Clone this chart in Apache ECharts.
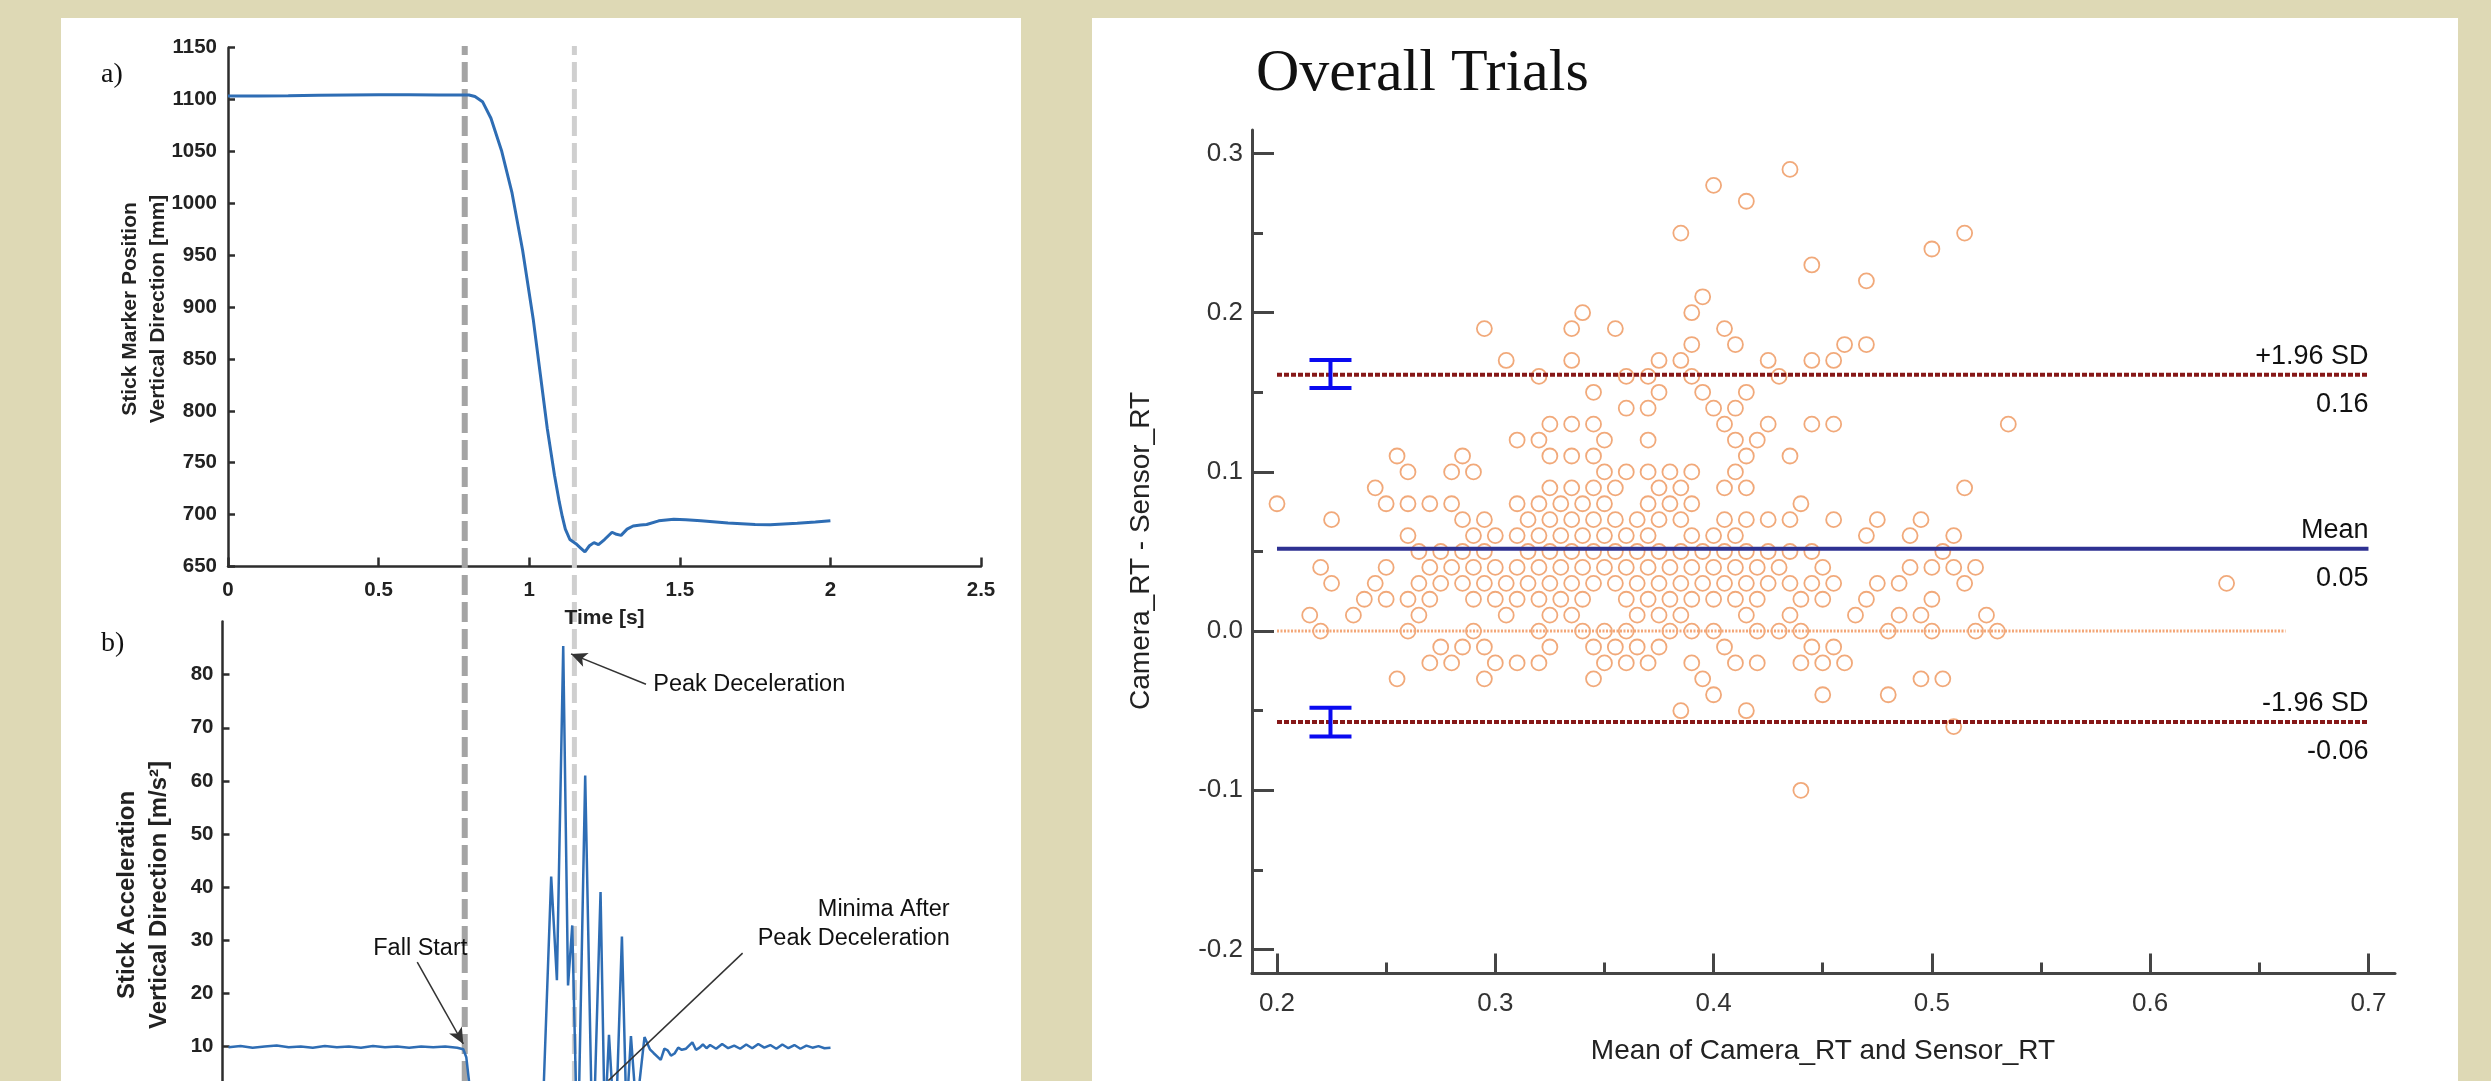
<!DOCTYPE html>
<html>
<head>
<meta charset="utf-8">
<script src="https://cdn.jsdelivr.net/npm/echarts@6/dist/echarts.min.js"></script>
<style>
html,body{margin:0;padding:0;background:#ded9b5;}
#c{width:2491px;height:1081px;}
</style>
</head>
<body>
<div id="c"></div>
<script>
// ---------- Panel a: stick marker position ----------
const posTime = [0, 0.1, 0.2, 0.3, 0.4, 0.5, 0.6, 0.7, 0.78, 0.8, 0.82, 0.845, 0.873, 0.908, 0.943, 0.978, 1.014, 1.037, 1.06, 1.084, 1.10, 1.11, 1.12, 1.135, 1.155, 1.17, 1.185, 1.20, 1.215, 1.23, 1.25, 1.275, 1.29, 1.305, 1.325, 1.345, 1.37, 1.39, 1.43, 1.48, 1.52, 1.57, 1.66, 1.75, 1.80, 1.89, 1.95, 2.0];
const posValue = [1103.5, 1103.5, 1103.8, 1104.2, 1104.5, 1104.6, 1104.6, 1104.5, 1104.5, 1104.4, 1103, 1098, 1082, 1051, 1010, 955, 887, 835, 783, 738, 712, 698, 686, 676, 672, 668, 664, 670, 673, 671, 676, 683, 681, 680, 686, 689, 690, 690.5, 694, 695.5, 695, 694, 692, 690.5, 690.3, 691.6, 692.8, 694];

// ---------- Panel b: stick acceleration ----------
const accTime = [0.00, 0.04, 0.08, 0.12, 0.16, 0.20, 0.24, 0.28, 0.32, 0.36, 0.40, 0.44, 0.48, 0.52, 0.56, 0.60, 0.64, 0.68, 0.72, 0.76, 0.78, 0.79, 0.80, 0.81, 0.83, 0.90, 1.00, 1.045, 1.072, 1.091, 1.112, 1.128, 1.142, 1.160, 1.185, 1.210, 1.236, 1.250, 1.264, 1.285, 1.307, 1.322, 1.337, 1.355, 1.382, 1.400, 1.412, 1.436, 1.448, 1.459, 1.470, 1.482, 1.494, 1.506, 1.520, 1.541, 1.553, 1.565, 1.576, 1.588, 1.60, 1.62, 1.64, 1.66, 1.68, 1.70, 1.72, 1.74, 1.76, 1.78, 1.80, 1.82, 1.84, 1.86, 1.88, 1.90, 1.92, 1.94, 1.96, 1.98, 2.00];
const accValue = [9.9, 10.1, 9.8, 10.0, 10.2, 9.9, 10.0, 9.8, 10.1, 9.9, 10.0, 9.8, 10.1, 9.9, 10.0, 9.8, 10.0, 9.9, 10.0, 9.8, 9.5, 8.0, 3.0, -2.0, -1.0, -0.5, -0.5, -1, 42, 22.5, 85.4, 21.5, 32.8, -12, 61, -12, 39.1, -5, 12.2, -8, 30.7, -3, 12, -2, 11.8, 9.5, 8.8, 7.5, 9.6, 9.3, 8.3, 8.7, 9.8, 9.4, 9.6, 10.8, 9.4, 9.8, 10.4, 9.7, 10.3, 9.6, 10.5, 9.7, 10.2, 9.6, 10.4, 9.7, 10.5, 9.8, 10.3, 9.6, 10.4, 9.7, 10.3, 9.6, 10.2, 9.8, 10.1, 9.7, 9.8];

// event markers (s): fall start, peak deceleration
const eventTimes = [0.786, 1.15];

// ---------- Bland-Altman: Overall Trials ----------
const baDiffRows = [0.29, 0.28, 0.27, 0.25, 0.24, 0.23, 0.22, 0.21, 0.20, 0.19, 0.18, 0.17, 0.16, 0.15, 0.14, 0.13, 0.12, 0.11, 0.10, 0.09, 0.08, 0.07, 0.06, 0.05, 0.04, 0.03, 0.02, 0.01, 0.00, -0.01, -0.02, -0.03, -0.04, -0.05, -0.06, -0.10];
const baMeanRows = [
  [0.435],
  [0.40],
  [0.415],
  [0.385, 0.515],
  [0.50],
  [0.445],
  [0.47],
  [0.395],
  [0.34, 0.39],
  [0.295, 0.335, 0.355, 0.405],
  [0.39, 0.41, 0.46, 0.47],
  [0.305, 0.335, 0.375, 0.385, 0.425, 0.445, 0.455],
  [0.32, 0.36, 0.37, 0.39, 0.43],
  [0.345, 0.375, 0.395, 0.415],
  [0.36, 0.37, 0.40, 0.41],
  [0.325, 0.335, 0.345, 0.405, 0.425, 0.445, 0.455, 0.535],
  [0.31, 0.32, 0.35, 0.37, 0.41, 0.42],
  [0.255, 0.285, 0.325, 0.335, 0.345, 0.415, 0.435],
  [0.26, 0.28, 0.29, 0.35, 0.36, 0.37, 0.38, 0.39, 0.41],
  [0.245, 0.325, 0.335, 0.345, 0.355, 0.375, 0.385, 0.405, 0.415, 0.515],
  [0.20, 0.25, 0.26, 0.27, 0.28, 0.31, 0.32, 0.33, 0.34, 0.35, 0.37, 0.38, 0.39, 0.44],
  [0.225, 0.285, 0.295, 0.315, 0.325, 0.335, 0.345, 0.355, 0.365, 0.375, 0.385, 0.405, 0.415, 0.425, 0.435, 0.455, 0.475, 0.495],
  [0.26, 0.29, 0.30, 0.31, 0.32, 0.33, 0.34, 0.35, 0.36, 0.37, 0.39, 0.40, 0.41, 0.47, 0.49, 0.51],
  [0.265, 0.275, 0.285, 0.295, 0.315, 0.325, 0.335, 0.345, 0.355, 0.365, 0.375, 0.385, 0.395, 0.405, 0.415, 0.425, 0.435, 0.445, 0.505],
  [0.22, 0.25, 0.27, 0.28, 0.29, 0.30, 0.31, 0.32, 0.33, 0.34, 0.35, 0.36, 0.37, 0.38, 0.39, 0.40, 0.41, 0.42, 0.43, 0.45, 0.49, 0.50, 0.51, 0.52],
  [0.225, 0.245, 0.265, 0.275, 0.285, 0.295, 0.305, 0.315, 0.325, 0.335, 0.345, 0.355, 0.365, 0.375, 0.385, 0.395, 0.405, 0.415, 0.425, 0.435, 0.445, 0.455, 0.475, 0.485, 0.515, 0.635],
  [0.24, 0.25, 0.26, 0.27, 0.29, 0.30, 0.31, 0.32, 0.33, 0.34, 0.36, 0.37, 0.38, 0.39, 0.40, 0.41, 0.42, 0.44, 0.45, 0.47, 0.50],
  [0.215, 0.235, 0.265, 0.305, 0.325, 0.335, 0.365, 0.375, 0.385, 0.415, 0.435, 0.465, 0.485, 0.495, 0.525],
  [0.22, 0.26, 0.29, 0.32, 0.34, 0.35, 0.36, 0.38, 0.39, 0.40, 0.42, 0.43, 0.44, 0.48, 0.50, 0.52, 0.53],
  [0.275, 0.285, 0.295, 0.325, 0.345, 0.355, 0.365, 0.375, 0.405, 0.445, 0.455],
  [0.27, 0.28, 0.30, 0.31, 0.32, 0.35, 0.36, 0.37, 0.39, 0.41, 0.42, 0.44, 0.45, 0.46],
  [0.255, 0.295, 0.345, 0.395, 0.495, 0.505],
  [0.40, 0.45, 0.48],
  [0.385, 0.415],
  [0.51],
  [0.44]
];
const baLimitValues = [0.161, 0.0518, -0.0571];       // +1.96 SD, mean, -1.96 SD
const baLimitNames = ['+1.96 SD', 'Mean', '-1.96 SD'];
const baLimitLabels = ['0.16', '0.05', '-0.06'];
const baLineRange = [0.2, 0.7];
const baZeroRange = [0.2, 0.662];
const baCI = [[0.2245, 0.1527, 0.1703], [0.2245, -0.0662, -0.0482]];
const baXTicks = [0.2, 0.3, 0.4, 0.5, 0.6, 0.7];
const baXMinor = [0.25, 0.35, 0.45, 0.55, 0.65];
const baYTicks = [-0.2, -0.1, 0.0, 0.1, 0.2, 0.3];
const baYMinor = [-0.15, -0.05, 0.05, 0.15, 0.25];
const accTicks = [10, 20, 30, 40, 50, 60, 70, 80];

// ---------- build ----------
const posData = posTime.map((t, i) => [t, posValue[i]]);
const accData = accTime.map((t, i) => [t, accValue[i]]);
const baData = [];
baDiffRows.forEach((d, i) => baMeanRows[i].forEach(m => baData.push([m, d])));

const chart = echarts.init(document.getElementById('c'), null, {width: 2491, height: 1081});
const AXL = '#2d2d2d';
const AXR = '#454545';
const leftLabel = {color: '#222', fontFamily: 'Liberation Sans', fontWeight: 'bold', fontSize: 20.5};
const rightLabel = {color: '#333', fontFamily: 'Liberation Sans', fontSize: 26};

const option = {
  animation: false,
  backgroundColor: '#ded9b5',
  grid: [
    {left: 228, top: 47.7, width: 753, height: 518.8},
    {left: 222.5, top: 621.5, width: 758.5, height: 459.5},
    {left: 228, top: 46, width: 753, height: 1035},
    {left: 1252, top: 130, width: 1143, height: 843.5}
  ],
  xAxis: [
    {gridIndex: 0, type: 'value', min: 0, max: 2.5, interval: 0.5, position: 'bottom',
     axisLine: {onZero: false, lineStyle: {color: AXL, width: 2.5}},
     axisTick: {inside: true, length: 9, lineStyle: {color: AXL, width: 2.5}},
     axisLabel: Object.assign({margin: 13, formatter: v => String(v)}, leftLabel),
     splitLine: {show: false}},
    {gridIndex: 1, type: 'value', min: -0.02, max: 2.5, show: false},
    {gridIndex: 2, type: 'value', min: 0, max: 2.5, show: false},
    {gridIndex: 3, type: 'value', min: 0.18855, max: 0.71215, position: 'bottom',
     axisLine: {onZero: false, lineStyle: {color: AXR, width: 3}},
     axisTick: {inside: true, length: 20, customValues: baXTicks, lineStyle: {color: AXR, width: 3}},
     axisLabel: Object.assign({margin: 17, customValues: baXTicks, formatter: v => v.toFixed(1)}, rightLabel),
     splitLine: {show: false}},
    {gridIndex: 3, type: 'value', min: 0.18855, max: 0.71215, position: 'bottom',
     axisLine: {show: false, onZero: false},
     axisTick: {inside: true, length: 11, customValues: baXMinor, lineStyle: {color: AXR, width: 3}},
     axisLabel: {show: false}, splitLine: {show: false}}
  ],
  yAxis: [
    {gridIndex: 0, type: 'value', min: 650, max: 1150, interval: 50, position: 'left',
     axisLine: {show: true, onZero: false, lineStyle: {color: AXL, width: 2.5}},
     axisTick: {show: true, inside: true, length: 7, lineStyle: {color: AXL, width: 2.5}},
     axisLabel: Object.assign({margin: 11, formatter: v => String(v)}, leftLabel),
     splitLine: {show: false}},
    {gridIndex: 1, type: 'value', min: 3.53, max: 90, position: 'left',
     axisLine: {show: true, onZero: false, lineStyle: {color: AXL, width: 2.5}},
     axisTick: {show: true, inside: true, length: 7, customValues: accTicks, lineStyle: {color: AXL, width: 2.5}},
     axisLabel: Object.assign({margin: 9, customValues: accTicks, formatter: v => String(v)}, leftLabel),
     splitLine: {show: false}},
    {gridIndex: 2, type: 'value', min: 0, max: 1, show: false},
    {gridIndex: 3, type: 'value', min: -0.21508, max: 0.31476, position: 'left',
     axisLine: {show: true, onZero: false, lineStyle: {color: AXR, width: 3}},
     axisTick: {show: true, inside: true, length: 22, customValues: baYTicks, lineStyle: {color: AXR, width: 3}},
     axisLabel: Object.assign({margin: 9, customValues: baYTicks, formatter: v => v.toFixed(1)}, rightLabel),
     splitLine: {show: false}},
    {gridIndex: 3, type: 'value', min: -0.21508, max: 0.31476, position: 'left',
     axisLine: {show: false, onZero: false},
     axisTick: {show: true, inside: true, length: 11, customValues: baYMinor, lineStyle: {color: AXR, width: 3}},
     axisLabel: {show: false}, splitLine: {show: false}}
  ],
  series: [
    {type: 'line', name: 'fall start', xAxisIndex: 2, yAxisIndex: 2, z: 1, silent: true,
     data: [[eventTimes[0], 0], [eventTimes[0], 1]], showSymbol: false,
     lineStyle: {color: '#a4a4a4', width: 6, type: [20, 7], cap: 'butt'}},
    {type: 'line', name: 'peak', xAxisIndex: 2, yAxisIndex: 2, z: 1, silent: true,
     data: [[eventTimes[1], 0], [eventTimes[1], 1]], showSymbol: false,
     lineStyle: {color: '#cfcfcf', width: 5, type: [20, 7], cap: 'butt'}},
    {type: 'line', name: 'position', xAxisIndex: 0, yAxisIndex: 0, z: 3,
     data: posData, showSymbol: false, lineStyle: {color: '#2e6db4', width: 3}},
    {type: 'line', name: 'acceleration', xAxisIndex: 1, yAxisIndex: 1, z: 3,
     data: accData, showSymbol: false, lineStyle: {color: '#2e6db4', width: 2.5},
     markLine: {silent: true, symbol: ['none', 'arrow'], symbolSize: [11, 16], animation: false,
       label: {show: false}, lineStyle: {color: '#333', width: 1.5, type: 'solid'},
       data: [
         [{coord: [1.387, 78.2]}, {coord: [1.138, 83.9]}],
         [{coord: [0.627, 25.9]}, {coord: [0.78, 10.5]}],
         [{coord: [1.708, 27.6], symbol: 'none'}, {coord: [1.262, 3.6], symbol: 'none'}]
       ]}},
    {type: 'scatter', name: 'trials', xAxisIndex: 3, yAxisIndex: 3, z: 2, data: baData,
     symbol: 'circle', symbolSize: 15,
     itemStyle: {color: 'rgba(255,255,255,0)', borderColor: '#ee9459', borderWidth: 1.8}},
    {type: 'line', name: 'zero', xAxisIndex: 3, yAxisIndex: 3, z: 4, silent: true, showSymbol: false,
     data: [[baZeroRange[0], 0], [baZeroRange[1], 0]],
     lineStyle: {color: '#f3a778', width: 3, type: [2, 1.5]}},
    {type: 'line', name: 'upper', xAxisIndex: 3, yAxisIndex: 3, z: 4, silent: true, showSymbol: false,
     data: [[baLineRange[0], baLimitValues[0]], [baLineRange[1], baLimitValues[0]]],
     lineStyle: {color: '#861818', width: 4, type: [5, 2]}},
    {type: 'line', name: 'mean', xAxisIndex: 3, yAxisIndex: 3, z: 4, silent: true, showSymbol: false,
     data: [[baLineRange[0], baLimitValues[1]], [baLineRange[1], baLimitValues[1]]],
     lineStyle: {color: '#2e3192', width: 4}},
    {type: 'line', name: 'lower', xAxisIndex: 3, yAxisIndex: 3, z: 4, silent: true, showSymbol: false,
     data: [[baLineRange[0], baLimitValues[2]], [baLineRange[1], baLimitValues[2]]],
     lineStyle: {color: '#861818', width: 4, type: [5, 2]}},
    {type: 'custom', name: 'ci', xAxisIndex: 3, yAxisIndex: 3, z: 5, silent: true,
     data: baCI, encode: {x: 0, y: [1, 2]},
     renderItem: function (params, api) {
       const x = api.value(0);
       const pLo = api.coord([x, api.value(1)]);
       const pHi = api.coord([x, api.value(2)]);
       const hw = 21;
       const st = {stroke: '#0a0af0', lineWidth: 4};
       return {type: 'group', children: [
         {type: 'line', shape: {x1: pLo[0], y1: pLo[1], x2: pHi[0], y2: pHi[1]}, style: st},
         {type: 'line', shape: {x1: pLo[0] - hw, y1: pLo[1], x2: pLo[0] + hw, y2: pLo[1]}, style: st},
         {type: 'line', shape: {x1: pHi[0] - hw, y1: pHi[1], x2: pHi[0] + hw, y2: pHi[1]}, style: st}
       ]};
     }}
  ]
};
chart.setOption(option);

// ---------- text & panels ----------
const pb = (t, v) => chart.convertToPixel({xAxisIndex: 1, yAxisIndex: 1}, [t, v]);
const pr = (x, y) => chart.convertToPixel({xAxisIndex: 3, yAxisIndex: 3}, [x, y]);
const txt = (x, y, text, font, opts) => Object.assign({
  type: 'text', x: x, y: y, silent: true, z: 10,
  style: Object.assign({text: text, font: font, fill: '#111', align: 'center', verticalAlign: 'middle'}, (opts && opts.style) || {})
}, (opts && opts.el) || {});

const g = [
  {type: 'rect', z: -10, silent: true, shape: {x: 61, y: 18, width: 960, height: 1100}, style: {fill: '#ffffff'}},
  {type: 'rect', z: -10, silent: true, shape: {x: 1092, y: 18, width: 1366, height: 1100}, style: {fill: '#ffffff'}},
  txt(101, 75, 'a)', '28px "Liberation Serif"', {style: {align: 'left'}}),
  txt(101, 644, 'b)', '28px "Liberation Serif"', {style: {align: 'left'}}),
  txt(144, 309, 'Stick Marker Position\nVertical Direction [mm]', 'bold 21px "Liberation Sans"',
      {style: {lineHeight: 28, fill: '#222'}, el: {rotation: Math.PI / 2}}),
  txt(143, 895, 'Stick Acceleration\nVertical Direction [m/s²]', 'bold 24px "Liberation Sans"',
      {style: {lineHeight: 32, fill: '#222'}, el: {rotation: Math.PI / 2}}),
  txt(604.5, 618, 'Time [s]', 'bold 21px "Liberation Sans"', {style: {fill: '#222'}})
];
const pPeak = pb(1.411, 78.1);
g.push(txt(pPeak[0], pPeak[1], 'Peak Deceleration', '23.5px "Liberation Sans"', {style: {align: 'left'}}));
const pFall = pb(0.637, 28.4);
g.push(txt(pFall[0], pFall[1], 'Fall Start', '23.5px "Liberation Sans"'));
const pMin = pb(2.396, 33.1);
g.push(txt(pMin[0], pMin[1], 'Minima After\nPeak Deceleration', '23.5px "Liberation Sans"', {style: {align: 'right', lineHeight: 29.6}}));

g.push(txt(1256, 74, 'Overall Trials', '60px "Liberation Serif"', {style: {align: 'left'}}));
g.push(txt(1141, 551, 'Camera_RT - Sensor_RT', '28px "Liberation Sans"', {style: {fill: '#222'}, el: {rotation: Math.PI / 2}}));
g.push(txt(1823, 1051, 'Mean of Camera_RT and Sensor_RT', '28px "Liberation Sans"', {style: {fill: '#222'}}));
baLimitValues.forEach((v, i) => {
  const p = pr(baLineRange[1], v);
  g.push(txt(p[0], p[1] - 18, baLimitNames[i], '27px "Liberation Sans"', {style: {align: 'right', fill: '#111'}}));
  g.push(txt(p[0], p[1] + 30, baLimitLabels[i], '27px "Liberation Sans"', {style: {align: 'right', fill: '#111'}}));
});
chart.setOption({graphic: g});
</script>
</body>
</html>
